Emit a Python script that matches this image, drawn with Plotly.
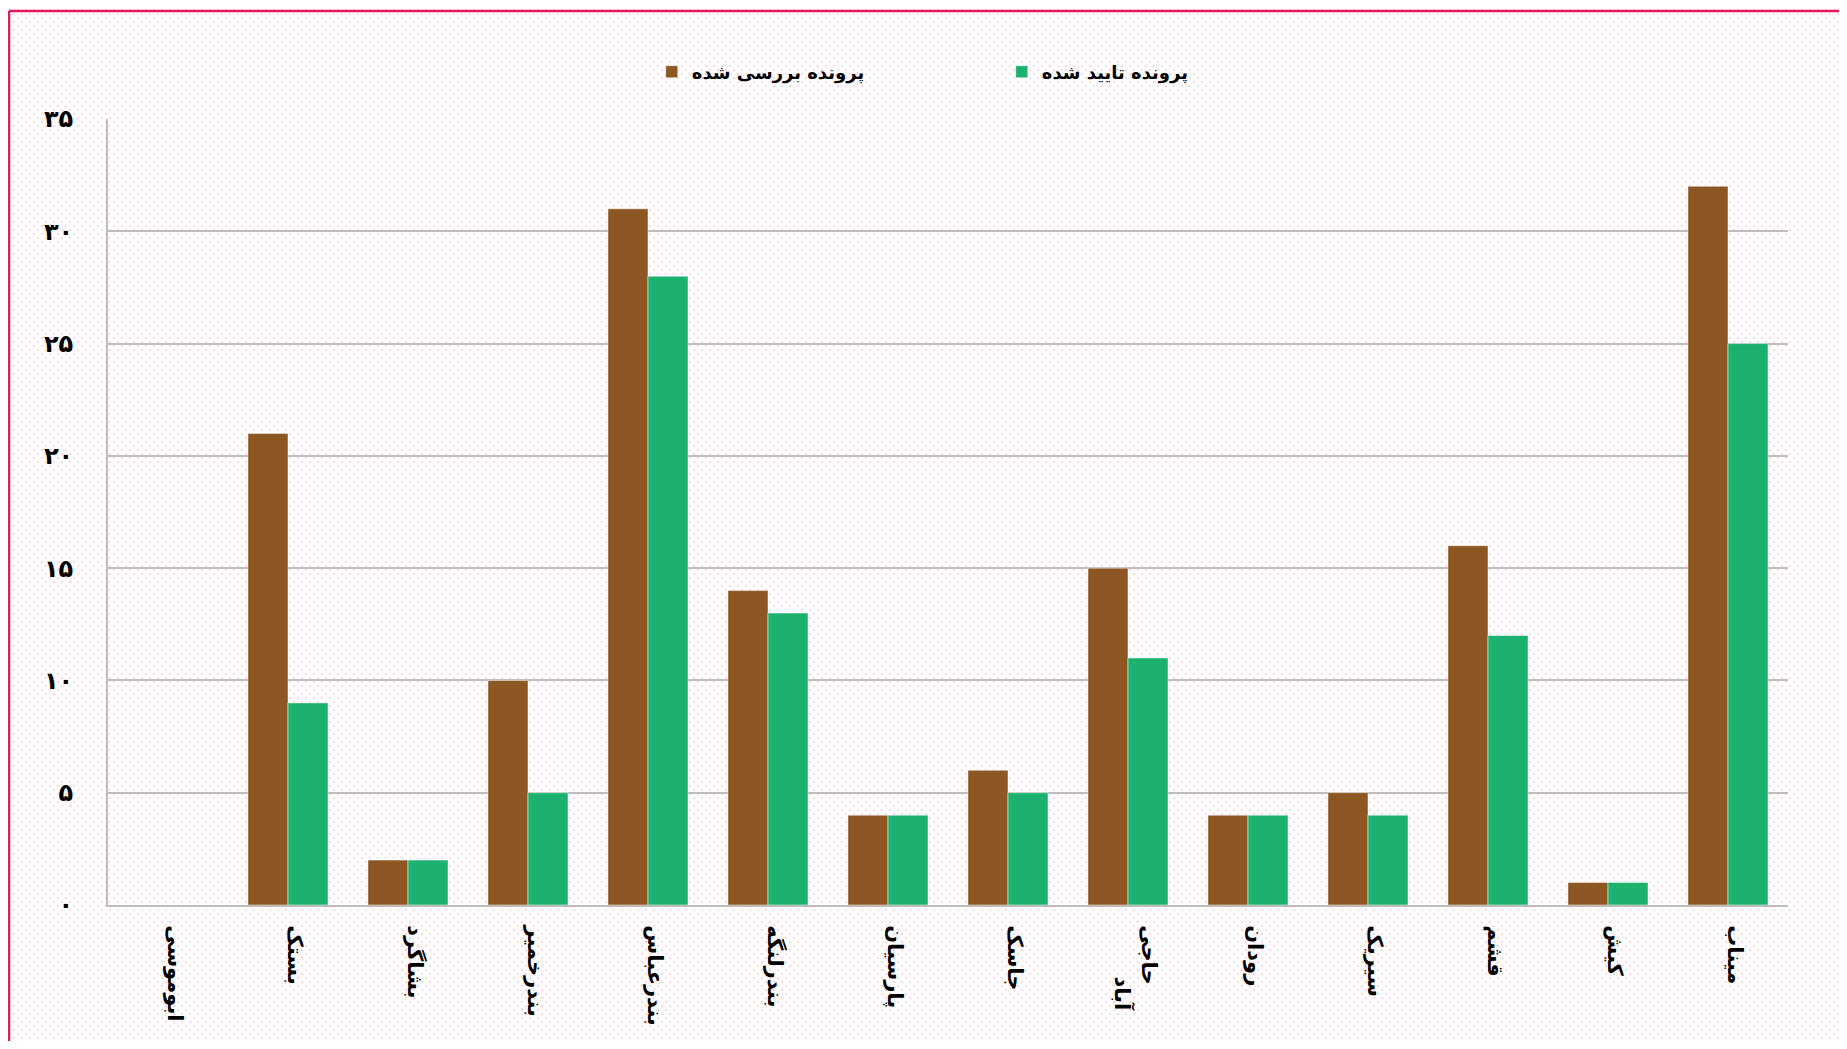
import base64
import plotly.graph_objects as go

categories = ["ابوموسی", "بستک", "بشاگرد", "بندرخمیر", "بندرعباس", "بندرلنگه", "پارسیان",
              "جاسک", "حاجی<br>" + "\u00a0" * 7 + "آباد", "رودان", "سیریک", "قشم", "کیش", "میناب"]
reviewed = [0, 21, 2, 10, 31, 14, 4, 6, 15, 4, 5, 16, 1, 32]
approved = [0, 9, 2, 5, 28, 13, 4, 5, 11, 4, 4, 12, 1, 25]
series_names = ["پرونده بررسی شده", "پرونده تایید شده"]
y_ticks = [0, 5, 10, 15, 20, 25, 30, 35]
y_ticklabels = ["۰", "۵", "۱۰", "۱۵", "۲۰", "۲۵", "۳۰", "۳۵"]

# page has an 8px body margin; figure coordinates = page coordinates - 8
OFF = 8
W, H = 1847 - 2 * OFF, 1049 - 2 * OFF
L, T = 108 - OFF, 119 - OFF
R = W - (1788 - OFF)
B = H - (905 - OFF)
pw, ph = W - L - R, H - T - B

svg = f'''<svg xmlns="http://www.w3.org/2000/svg" width="{W}" height="{H}" viewBox="0 0 {W} {H}">
<defs><pattern id="p" width="8" height="8" patternUnits="userSpaceOnUse">
<rect x="1" y="1" width="2" height="2" fill="#fcd6e2"/>
<rect x="5" y="5" width="2" height="2" fill="#fcd6e2"/>
</pattern></defs>
<rect width="{W}" height="{H}" fill="#ffffff"/>
<rect width="{W}" height="{H}" fill="url(#p)"/>
</svg>'''
src = "data:image/svg+xml;base64," + base64.b64encode(svg.encode()).decode()

FONT = "DejaVu Sans"
fig = go.Figure()
fig.add_trace(go.Bar(x=categories, y=reviewed, name=series_names[0],
                     marker=dict(color="#8c5722", line=dict(color="rgba(255,255,255,0.6)", width=0.8))))
fig.add_trace(go.Bar(x=categories, y=approved, name=series_names[1],
                     marker=dict(color="#1db170", line=dict(color="rgba(255,255,255,0.6)", width=0.8))))

def px_x(x):
    return (x - L) / pw

def px_y(y):
    return (H - B - y) / ph

fig.add_layout_image(dict(source=src, xref="paper", yref="paper",
                          x=px_x(0), y=px_y(0), sizex=W / pw, sizey=H / ph,
                          xanchor="left", yanchor="top", sizing="stretch", layer="below"))

border = "#e5175c"
fig.add_shape(type="line", xref="paper", yref="paper", x0=px_x(9 - OFF), x1=px_x(W + 5),
              y0=px_y(11 - OFF), y1=px_y(11 - OFF), line=dict(color=border, width=2.5))
fig.add_shape(type="line", xref="paper", yref="paper", x0=px_x(9 - OFF), x1=px_x(9 - OFF),
              y0=px_y(11 - OFF), y1=px_y(H + 5), line=dict(color=border, width=2.5))

fig.update_layout(
    width=W, height=H,
    margin=dict(l=L, r=R, t=T, b=B, autoexpand=False),
    paper_bgcolor="white", plot_bgcolor="rgba(0,0,0,0)",
    barmode="group", bargap=0.333, bargroupgap=0,
    font=dict(family=FONT, size=20, color="black", weight="bold"),
    legend=dict(orientation="h", x=0.532, xanchor="center", y=px_y(72 - OFF), yanchor="middle",
                font=dict(family=FONT, size=18, color="black", weight="bold"),
                entrywidth=305, entrywidthmode="pixels", bgcolor="rgba(0,0,0,0)"),
    showlegend=True,
)
fig.update_xaxes(tickangle=90, showline=True, linecolor="#bdbdbd", linewidth=2,
                 showgrid=False, ticks="", ticklabelstandoff=14, ticklabelshift=7,
                 tickfont=dict(family=FONT, size=21, color="black", weight="bold"))
fig.update_yaxes(range=[0, 35], tickvals=y_ticks, ticktext=y_ticklabels,
                 showline=True, linecolor="#bdbdbd", linewidth=2,
                 showgrid=True, gridcolor="#bdbdbd", gridwidth=1.5, zeroline=False,
                 ticks="", ticklabelstandoff=28,
                 tickfont=dict(family=FONT, size=24, color="black", weight="bold"))

fig.write_html("out.html")
